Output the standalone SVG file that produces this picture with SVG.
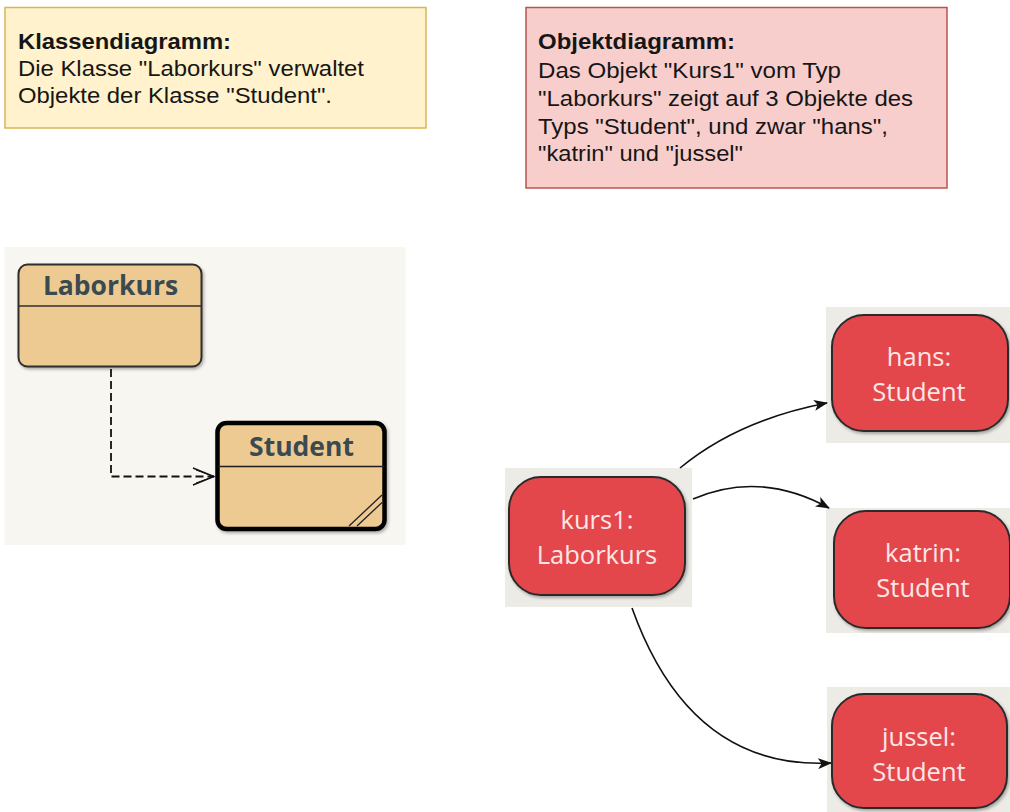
<svg xmlns="http://www.w3.org/2000/svg" width="1010" height="812" viewBox="0 0 1010 812">
  <defs>
    <style>
      .note { font-family: "Liberation Sans", Arial, sans-serif; font-size: 21.5px; fill: #161616; }
      .note .b { font-weight: bold; }
      .cls { fill: #eeca93; }
      .clsTitle { font-family: "Open Sans", "Noto Sans", sans-serif; font-weight: bold; font-size: 26.5px; fill: #3b4a50; text-anchor: middle; }
      .obj { fill: #e4474c; stroke: #2b2b2b; stroke-width: 2; }
      .objBg { fill: #ecebe6; }
      .objText { font-family: "Open Sans", "Noto Sans", sans-serif; font-size: 25.5px; fill: #fde6e6; text-anchor: middle; }
      .edge { fill: none; stroke: #111; stroke-width: 1.6; }
    </style>
    <marker id="arrow" viewBox="0 0 14 11" refX="13" refY="5.5" markerWidth="14" markerHeight="11" markerUnits="userSpaceOnUse" orient="auto">
      <path d="M0,0 L14,5.5 L0,11 L3.5,5.5 Z" fill="#111"/>
    </marker>
    <filter id="shadow" x="-10%" y="-10%" width="125%" height="130%">
      <feDropShadow dx="1.5" dy="2" stdDeviation="1.5" flood-color="#000" flood-opacity="0.3"/>
    </filter>
  </defs>

  <rect width="1010" height="812" fill="#ffffff"/>

  <!-- Notes -->
  <g id="note-klassendiagramm">
    <rect x="5" y="7.5" width="421" height="120.5" fill="#fff2cc" stroke="#d6b656" stroke-width="1.5"/>
    <text class="note">
      <tspan class="b" x="18" y="49" textLength="213" lengthAdjust="spacingAndGlyphs">Klassendiagramm:</tspan>
      <tspan x="18" y="76" textLength="346" lengthAdjust="spacingAndGlyphs">Die Klasse "Laborkurs" verwaltet</tspan>
      <tspan x="18" y="103" textLength="314" lengthAdjust="spacingAndGlyphs">Objekte der Klasse "Student".</tspan>
    </text>
  </g>
  <g id="note-objektdiagramm">
    <rect x="526" y="7.5" width="421" height="180.5" fill="#f8cecc" stroke="#b85450" stroke-width="1.5"/>
    <text class="note">
      <tspan class="b" x="538" y="49" textLength="197" lengthAdjust="spacingAndGlyphs">Objektdiagramm:</tspan>
      <tspan x="538" y="77.5" textLength="303" lengthAdjust="spacingAndGlyphs">Das Objekt "Kurs1" vom Typ</tspan>
      <tspan x="538" y="105.5" textLength="375" lengthAdjust="spacingAndGlyphs">"Laborkurs" zeigt auf 3 Objekte des</tspan>
      <tspan x="538" y="133.5" textLength="350" lengthAdjust="spacingAndGlyphs">Typs "Student", und zwar "hans",</tspan>
      <tspan x="538" y="161" textLength="205" lengthAdjust="spacingAndGlyphs">"katrin" und "jussel"</tspan>
    </text>
  </g>

  <!-- Class diagram panel -->
  <rect x="4.5" y="247" width="401" height="298" fill="#f7f6f1"/>

  <g id="class-laborkurs">
    <rect class="cls" x="18.5" y="264.5" width="183" height="102" rx="9" style="stroke:#2e2e2e;stroke-width:2" filter="url(#shadow)"/>
    <line x1="18.5" y1="306" x2="201.5" y2="306" stroke="#2e2e2e" stroke-width="1.5"/>
    <text class="clsTitle" x="110.5" y="295">Laborkurs</text>
  </g>

  <g id="class-student">
    <rect class="cls" x="217.5" y="423" width="167" height="106" rx="9" style="stroke:#000;stroke-width:4.5" filter="url(#shadow)"/>
    <line x1="217.5" y1="466.5" x2="384.5" y2="466.5" stroke="#1e1e1e" stroke-width="1.5"/>
    <text class="clsTitle" x="301.5" y="456">Student</text>
    <line x1="349" y1="526" x2="382" y2="495" stroke="#222" stroke-width="1.3"/>
    <line x1="357" y1="526" x2="382" y2="502.5" stroke="#222" stroke-width="1.3"/>
  </g>

  <!-- Object diagram nodes -->
  <g id="obj-kurs1">
    <rect class="objBg" x="505" y="468" width="187" height="139"/>
    <rect class="obj" x="509" y="477" width="176" height="118" rx="32" filter="url(#shadow)"/>
    <text class="objText" x="597" y="529">kurs1:</text>
    <text class="objText" x="597" y="564">Laborkurs</text>
  </g>

  <g id="obj-hans">
    <rect class="objBg" x="826" y="307" width="184" height="136"/>
    <rect class="obj" x="832" y="315" width="176" height="116" rx="32" filter="url(#shadow)"/>
    <text class="objText" x="919" y="366">hans:</text>
    <text class="objText" x="919" y="401">Student</text>
  </g>

  <g id="obj-katrin">
    <rect class="objBg" x="826" y="508" width="184" height="125"/>
    <rect class="obj" x="834" y="511" width="176" height="117" rx="32" filter="url(#shadow)"/>
    <text class="objText" x="923" y="562">katrin:</text>
    <text class="objText" x="923" y="597">Student</text>
  </g>

  <g id="obj-jussel">
    <rect class="objBg" x="827" y="687" width="183" height="125"/>
    <rect class="obj" x="832" y="694" width="175" height="114" rx="32" filter="url(#shadow)"/>
    <text class="objText" x="919" y="746">jussel:</text>
    <text class="objText" x="919" y="781">Student</text>
  </g>

  <!-- Connectors -->
  <g id="connectors">
    <path d="M111,369 L111,476.5 L214,476.5" fill="none" stroke="#111" stroke-width="1.8" stroke-dasharray="8,4"/>
    <path d="M193,468 L214,476.5 L193,485" fill="none" stroke="#111" stroke-width="1.4"/>
    <path d="M196,470 L214,476.5 L196,483" fill="none" stroke="#111" stroke-width="1"/>
    <path class="edge" d="M680,468 Q738,420 827,403" marker-end="url(#arrow)"/>
    <path class="edge" d="M693,499 Q760,470 829,508" marker-end="url(#arrow)"/>
    <path class="edge" d="M632,608 Q690,770 831,763" marker-end="url(#arrow)"/>
  </g>
</svg>
